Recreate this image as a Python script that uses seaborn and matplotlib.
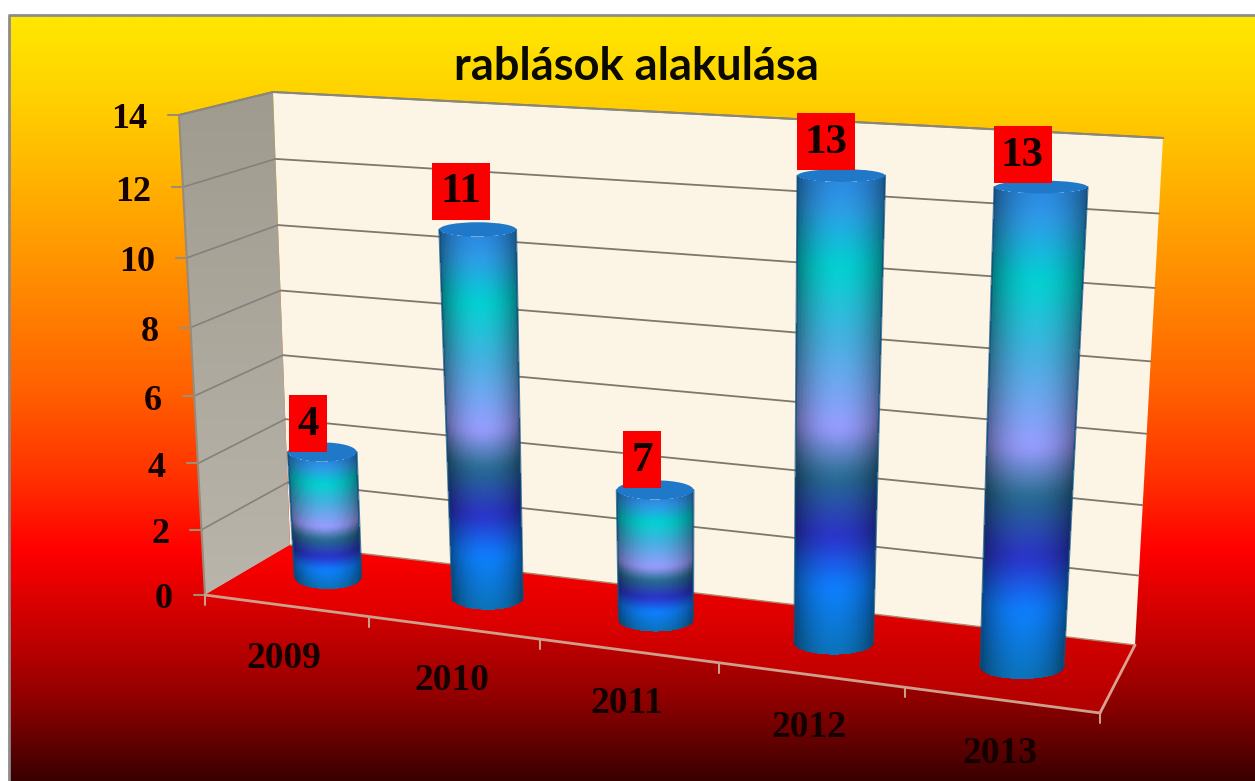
"""
Robbery counts per year, redrawn as a fake 3D cylinder chart.
"""

import matplotlib
matplotlib.use("Agg")
import matplotlib.pyplot as plt
import numpy as np
import seaborn as sns
from matplotlib.colors import LinearSegmentedColormap
from matplotlib.patches import Ellipse, Polygon, Rectangle
from matplotlib.transforms import Transform

# -----------------------------
# Data
# -----------------------------
years = ["2009", "2010", "2011", "2012", "2013"]
bar_heights = [3.9, 10.9, 3.85, 13, 13]  # as drawn; 2011 is drawn shorter than its label
data_labels = ["4", "11", "7", "13", "13"]
y_ticks = [0, 2, 4, 6, 8, 10, 12, 14]
title = "rablások alakulása"

# -----------------------------
# Layout (image pixels)
# -----------------------------
W, H = 1255, 781
FRONT_BL, FRONT_BR, FRONT_TL, FRONT_TR = (205, 595), (1100, 713), (179, 115), (1132, 183)
BACK_BL, BACK_BR, BACK_TL, BACK_TR = (290, 545), (1135, 645), (273, 92), (1163, 138)
BAR_PLANE = [(328, 577), (1022, 667), (1041, 187), (308, 145)]
LABEL_OFFSETS = [(-14, -28.5), (-17, -38), (-13, -30), (-15.5, -34), (-18.5, -32.5)]
SERIF = "Liberation Serif"

BG_STOPS = [(15, "#ffe800"), (100, "#ffd000"), (200, "#ffab00"), (270, "#ff9000"),
            (390, "#ff6000"), (480, "#ff3000"), (550, "#ff0000"), (640, "#c00000"),
            (700, "#900000"), (781, "#3a0000")]
FLOOR_STOPS = [(545, "#ff0000"), (620, "#dd0000"), (713, "#b00000")]
SIDE_STOPS = [(92, "#9f9b8f"), (595, "#bab5aa")]
BAR_STOPS = [(0.0, "#0b72b8"), (0.15, "#0d80ff"), (0.26, "#2b30c8"), (0.39, "#256c8e"),
             (0.49, "#9a9cff"), (0.68, "#45b0e0"), (0.83, "#00d2d0"), (0.95, "#2f9ae8"),
             (1.0, "#2a8ae0")]


class PlaneTransform(Transform):
    """Perspective map of a (category, value) plane onto image pixels."""
    input_dims = 2
    output_dims = 2
    has_inverse = False

    def __init__(self, src, dst):
        super().__init__()
        rows, rhs = [], []
        for (x, y), (u, v) in zip(src, dst):
            rows.append([x, y, 1, 0, 0, 0, -u * x, -u * y])
            rows.append([0, 0, 0, x, y, 1, -v * x, -v * y])
            rhs += [u, v]
        self.m = np.append(np.linalg.solve(np.array(rows, float), np.array(rhs, float)), 1).reshape(3, 3)

    def transform_non_affine(self, values):
        pts = np.column_stack([np.asarray(values, float), np.ones(len(values))]) @ self.m.T
        return pts[:, :2] / pts[:, 2:]


def lerp(a, b, t):
    return (a[0] + (b[0] - a[0]) * t, a[1] + (b[1] - a[1]) * t)


def warp(t, a):
    """Perspective spacing along a wall edge (0 = top, 1 = bottom)."""
    return a * t / (1 + (a - 1) * t)


def fill_gradient(axis, polygon, stops, zorder=1):
    """Vertical gradient in pixel space, clipped to a polygon."""
    y0, y1 = stops[0][0], stops[-1][0]
    cmap = LinearSegmentedColormap.from_list("g", [((y - y0) / (y1 - y0), c) for y, c in stops])
    xs = [p[0] for p in polygon]
    img = axis.imshow(np.linspace(0, 1, 512).reshape(-1, 1), cmap=cmap, aspect="auto", origin="upper",
                      extent=[min(xs), max(xs), y1, y0], interpolation="bilinear", zorder=zorder)
    img.set_clip_path(Polygon(polygon, transform=axis.transData))


def soft_bands(fractions, cmap, span=21):
    """Sample the cylinder colours and soften the kinks between the stops."""
    kernel = np.hanning(span)
    kernel /= kernel.sum()
    rgb = cmap(fractions)[:, :3]
    pad = span // 2
    padded = np.pad(rgb, ((pad, pad), (0, 0)), mode="edge")
    return np.column_stack([np.convolve(padded[:, c], kernel, mode="valid") for c in range(3)])


sns.set_theme(style="white")
fig = plt.figure(figsize=(W / 100, H / 100), dpi=100, facecolor="white")
px = fig.add_axes([0, 0, 1, 1])
ax = fig.add_axes([0, 0, 1, 1], zorder=2)
top = fig.add_axes([0, 0, 1, 1], zorder=3)

# -----------------------------
# Background, walls and floor
# -----------------------------
page = [(9, 15), (W, 15), (W, H), (9, H)]
fill_gradient(px, page, BG_STOPS)
px.plot([9, 9, W], [H, 15, 15], color="#8c8c8c", lw=2, zorder=2)
px.add_patch(Polygon([BACK_TL, BACK_TR, BACK_BR, BACK_BL], fc="#fcf4e4", ec="none", zorder=2))
fill_gradient(px, [FRONT_TL, BACK_TL, BACK_BL, FRONT_BL], SIDE_STOPS, zorder=2)
fill_gradient(px, [FRONT_BL, BACK_BL, BACK_BR, FRONT_BR], FLOOR_STOPS, zorder=2)

# gridlines and value axis
for v in y_ticks:
    t = 1 - v / max(y_ticks)
    front = lerp(FRONT_TL, FRONT_BL, warp(t, 1.06))
    back_l = lerp(BACK_TL, BACK_BL, warp(t, 1.04))
    back_r = lerp(BACK_TR, BACK_BR, warp(t, 1.05))
    if v > 0:
        px.plot([back_l[0], back_r[0]], [back_l[1], back_r[1]], color="#7d776c", lw=1.3, zorder=3)
        px.plot([front[0], back_l[0]], [front[1], back_l[1]], color="#85817a", lw=1.2, zorder=3)
    px.plot([front[0] - 11, front[0]], [front[1], front[1]], color="#a08c70", lw=1.5, zorder=3)
    px.text(front[0] - 32, front[1] + 5, str(v), ha="right", va="center", fontsize=26,
            fontweight="bold", family=SERIF, color="#140000", zorder=4)
px.plot([FRONT_TL[0], BACK_TL[0], BACK_TR[0]], [FRONT_TL[1], BACK_TL[1], BACK_TR[1]],
        color="#8a8678", lw=1.5, zorder=3)
px.plot([FRONT_TL[0], FRONT_BL[0]], [FRONT_TL[1], FRONT_BL[1]], color="#9a8a78", lw=1.5, zorder=3)
px.plot([BACK_BL[0], BACK_BR[0]], [BACK_BL[1], BACK_BR[1]], color="#b08a70", lw=1, zorder=3)

# category axis
front_plane = PlaneTransform([(-0.5, 0), (4.5, 0), (4.5, 14), (-0.5, 14)],
                             [FRONT_BL, FRONT_BR, FRONT_TR, FRONT_TL])
edge_ticks = front_plane.transform(np.column_stack([np.arange(len(years) + 1) - 0.5, np.zeros(len(years) + 1)]))
px.plot(edge_ticks[:, 0], edge_ticks[:, 1], color="#cda08c", lw=2, zorder=3)
px.plot([FRONT_BR[0], BACK_BR[0]], [FRONT_BR[1], BACK_BR[1]], color="#dca090", lw=2, zorder=3)
for x, y in edge_ticks:
    px.plot([x, x], [y, y + 10], color="#c8a08a", lw=1.5, zorder=3)
for i, year in enumerate(years):
    x, y = front_plane.transform(np.array([[i, 0.0]]))[0]
    px.text(x - 2, y + 53, year, ha="center", va="center", fontsize=27, fontweight="bold",
            family=SERIF, color="#140000", zorder=4)

px.text(636, 67, title, ha="center", va="center", fontsize=32.5, fontweight="bold",
        family="Lato", color="#0a0a00", zorder=4)

px.set_xlim(0, W)
px.set_ylim(H, 0)
px.axis("off")

# -----------------------------
# Cylinders
# -----------------------------
sns.barplot(x=years, y=bar_heights, width=0.43, color="#1f78c8", ax=ax)
ax.axis("off")
top.set_autoscale_on(False)
top.axis("off")

plane = PlaneTransform([(0, 0), (4, 0), (4, 13), (0, 13)], BAR_PLANE)
bar_cmap = LinearSegmentedColormap.from_list("cyl", BAR_STOPS)

u = np.linspace(0, 1, 61)
f = np.linspace(0, 1, 241)
for i, bar in enumerate(ax.patches):
    # the seaborn bar gives the geometry, the cylinder is what gets shown
    bar.set_visible(False)
    centre = bar.get_x() + bar.get_width() / 2
    width, height = bar.get_width(), bar.get_height()

    axis_pts = plane.transform(np.column_stack([np.full_like(f, centre), height * f]))
    left_pts = plane.transform(np.column_stack([np.full_like(f, centre - width / 2), height * f]))
    right_pts = plane.transform(np.column_stack([np.full_like(f, centre + width / 2), height * f]))
    half = (right_pts[:, 0] - left_pts[:, 0]) / 2 * (1 + 0.004 * height * f)

    # curved lower edge, shaded towards the sides
    cap_half = 11 - 0.35 * height
    U, F = np.meshgrid(u, f)
    bulge = np.sqrt(np.clip(1 - (2 * U - 1) ** 2, 0, 1))
    X = axis_pts[:, 0][:, None] + half[:, None] * (2 * U - 1)
    Y = axis_pts[:, 1][:, None] + (12 + (cap_half - 12) * F) * bulge
    uc, fc = (u[:-1] + u[1:]) / 2, (f[:-1] + f[1:]) / 2
    shade = 0.55 + 0.45 * np.sin(np.pi * uc) ** 0.7
    rgb = soft_bands(fc, bar_cmap)[:, None, :] * shade[None, :, None]
    top.pcolormesh(X, Y, rgb, transform=px.transData, shading="flat", clip_on=False,
                   antialiased=False, linewidth=0, zorder=3)

    # thin side lines hide the stair steps of the mesh
    for col in (0, -1):
        top.plot(X[:, col], Y[:, col], color="#0e5080", lw=1.4, alpha=0.75,
                 transform=px.transData, clip_on=False, zorder=3.5)

    cap = Ellipse(axis_pts[-1], 2 * half[-1], 2 * cap_half, fc="#2078c8", ec="none",
                  transform=px.transData, clip_on=False, zorder=4)
    top.add_patch(cap)

    # red value label
    cx = axis_pts[-1, 0] + LABEL_OFFSETS[i][0]
    cy = axis_pts[-1, 1] + LABEL_OFFSETS[i][1]
    box_w = 38 if len(data_labels[i]) == 1 else 58
    top.add_patch(Rectangle((cx - box_w / 2, cy - 28.5), box_w, 57, fc="#fa0000", ec="none",
                            transform=px.transData, clip_on=False, zorder=5))
    top.text(cx, cy + 1, data_labels[i], ha="center", va="center", fontsize=31, fontweight="bold",
             family=SERIF, color="#100000", transform=px.transData, zorder=6)

fig.savefig("out.png", dpi=100, facecolor="white")
